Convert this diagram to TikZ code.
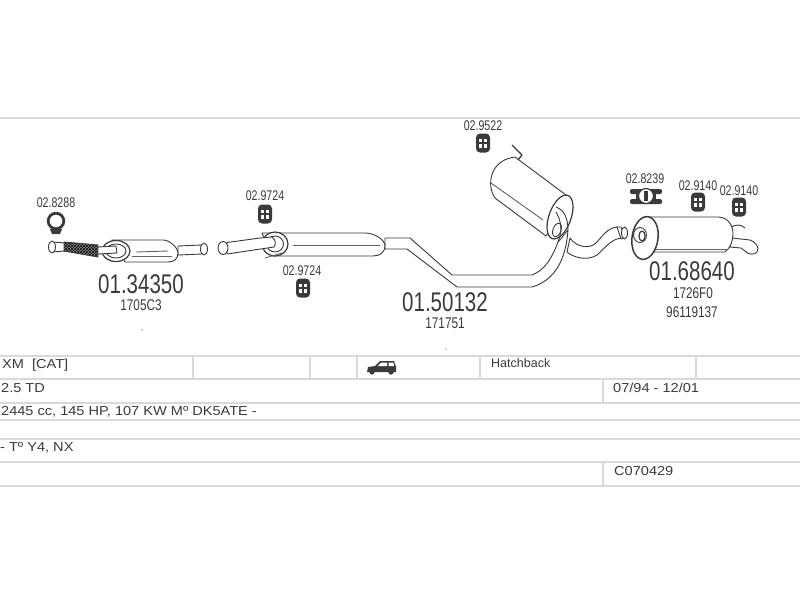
\documentclass[tikz,border=0pt]{standalone}
\usepackage{fontspec}
\setmainfont{Liberation Sans}
\newfontfamily\narrowfont[FakeStretch=.76]{Liberation Sans}
\newfontfamily\wideface[FakeStretch=1.12]{Liberation Sans}
\usetikzlibrary{calc,patterns}
\definecolor{inkgray}{HTML}{3A3A3A}
\definecolor{rulegray}{HTML}{D9D9D9}
\tikzset{
  pipeline/.style={draw=inkgray, line width=.9pt, fill=white, line join=round},
  thinline/.style={draw=inkgray!80, line width=.9pt},
  rowline/.style={draw=rulegray, line width=2pt},
  partno/.style={text=inkgray, font=\narrowfont\fontsize{27}{27}\selectfont, inner sep=0pt},
  refno/.style={text=inkgray, font=\narrowfont\fontsize{15.5}{16}\selectfont, inner sep=0pt},
  clampno/.style={text=inkgray, font=\narrowfont\fontsize{14}{14}\selectfont, inner sep=0pt},
  rowtext/.style={text=inkgray, font=\wideface\fontsize{13}{13}\selectfont, anchor=west, inner sep=0pt},
}
% rubber hanger, centre at #1
\newcommand{\hanger}[1]{
  \fill[inkgray, rounded corners=4pt] ($#1+(-7,-9.5)$) rectangle ($#1+(7,9.5)$);
  \fill[white] ($#1+(-4,-4.5)$) rectangle ($#1+(-1,-.8)$);
  \fill[white] ($#1+(1,-4.5)$) rectangle ($#1+(4,-.8)$);
  \fill[white] ($#1+(-4,.8)$) rectangle ($#1+(-1,4.5)$);
  \fill[white] ($#1+(1,.8)$) rectangle ($#1+(4,4.5)$);
}
\begin{document}
\begin{tikzpicture}[x=1pt, y=-1pt]
\useasboundingbox (0,0) rectangle (800,600);

% table
\foreach \y in {118,356,379,403,420,439,462,486}
  \draw[rowline] (0,\y)--(800,\y);
\foreach \x in {193,310,357,480,696}
  \draw[rowline] (\x,356)--(\x,379);
\draw[rowline] (603,379)--(603,403);
\draw[rowline] (603,462)--(603,486);

\node[rowtext] (model) at (2,365) {XM\ \ [CAT]};
\node[rowtext] (engine) at (1,388) {2.5 TD};
\node[rowtext] (power) at (1,412) {2445 cc, 145 HP, 107 KW Mº DK5ATE -};
\node[rowtext] (type) at (0,448) {- Tº Y4, NX};
\node[rowtext, font=\fontsize{12.5}{13}\selectfont] (body) at (491,363) {Hatchback};
\node[rowtext] (years) at (613,388) {07/94 - 12/01};
\node[rowtext] (code) at (614,471) {C070429};

% car icon
\fill[inkgray] (367,372)--(368,367)--(375,366)--(380,361)--(394,361)--(396,367)--(396,372)--cycle;
\fill[white] (381,362.5)--(387,362.5)--(387,366)--(378,366)--cycle (388.5,362.5)--(393.5,362.5)--(394,366)--(388.5,366)--cycle;
\fill[inkgray] (372,372) circle (2.6) (391,372) circle (2.6);

% front pipe and catalyst
\draw[pipeline] (52,242)--(65,243)--(65,251)--(52,252);
\draw[pipeline] (52,247) ellipse (3.5 and 6);
\fill[inkgray!55] (64,242)--(98,245)--(98,257)--(64,251)--cycle;
\draw[pipeline, pattern=crosshatch, pattern color=black] (64,242)--(98,245)--(98,257)--(64,251)--cycle;
\draw[pipeline] (178,246)--(202,245)--(202,254)--(178,255)--cycle;
\draw[pipeline] (204,249) ellipse (3.5 and 6);
\draw[pipeline] (112,240)--(163,240)..controls (170,240) and (178,248)..(178,253)..controls (178,259) and (174,262)..(168,262)--(125,262)--cycle;
\draw[pipeline, line width=1.2pt] (116,251) ellipse (14 and 10.5);
\draw[pipeline] (116,251) ellipse (10 and 7);
\draw[pipeline] (98,247)--(116,246)--(117,253)--(98,254)--cycle;
\draw[thinline] (136,252)--(168,251);
\draw[thinline] (132,256)--(172,256);

\draw[line width=2.8pt, draw=inkgray] (56,221) circle (7.8);
\fill[inkgray] (50,229)--(62,229)--(60,234)--(52,234)--cycle;

% centre pipe
\draw[pipeline] (385,238)--(410,238)--(452,275)--(532,275)..controls (545,270) and (552,258)..(558,242)
  --(568,230)..controls (566,258) and (556,280)..(532,287)--(457,287)--(407,249)--(385,249)--cycle;
\draw[pipeline] (262,233)--(365,233)..controls (375,233) and (385,240)..(385,246)..controls (385,252) and (380,256)..(373,256)--(272,256)--cycle;
\draw[pipeline, line width=1.2pt] (275,244) ellipse (13 and 12);
\draw[pipeline] (275,244) ellipse (8.5 and 8);
\draw[thinline] (293,245)--(380,245);
\draw[pipeline] (227,242.5)--(260,238)--(272,237)..controls (276,240) and (276,244)..(274,247)--(227,254)--cycle;
\draw[pipeline] (223,248) ellipse (5 and 6.5);
\draw[thinline] (265,258)--(282,253);

% centre muffler
\draw[pipeline] (515,157)--(570,198)--(546,236)--(495,198)..controls (486,185) and (490,160)..(515,157)--cycle;
\draw[thinline] (491,183)--(543,220);
\draw[pipeline, line width=1.3pt, fill=none] (512,145)--(522,155)--(518,160);
\draw[pipeline, line width=1.2pt, rotate around={-20:(560,217)}] (560,217) ellipse (11 and 23);
\draw[pipeline, rotate around={-20:(557,230)}] (557,230) ellipse (4 and 7);
\draw[pipeline, fill=none] (568,230)..controls (568,220) and (565,210)..(556,207);
\draw[pipeline, fill=none] (558,242)..controls (562,232) and (562,222)..(556,212);

% connecting bend
\draw[pipeline] (570,238)..controls (576,247) and (590,250)..(597,242)..controls (603,235) and (608,228)..(617,227)
  --(623,238)..controls (612,238) and (606,247)..(597,255)..controls (588,261) and (574,258)..(567,252)--cycle;
\draw[pipeline] (617,227)--(621,227)--(625,238)--(621,239)--cycle;
\draw[pipeline] (624.5,233) ellipse (3 and 6);

% rear muffler
\draw[pipeline] (732,238)--(750,240)..controls (756,242) and (760,248)..(757,252)..controls (755,255) and (748,255)..(745,251)--(741,248)--(730,247)--cycle;
\draw[pipeline, fill=none] (730,228)..controls (735,224) and (741,224)..(745,228);
\draw[pipeline] (645,217)--(718,217)..controls (728,217) and (733,226)..(733,233)..controls (733,242) and (730,248)..(725,252)--(650,252)--cycle;
\draw[thinline] (655,249)--(728,249);
\draw[pipeline, line width=1.5pt, rotate around={-8:(645,238)}] (645,238) ellipse (13 and 21.5);
\draw[pipeline] (640,235) ellipse (6.5 and 7.5);
\draw[pipeline, line width=1.2pt] (642,236) ellipse (3 and 5);

% clamps
\hanger{(265,214)}
\hanger{(303,288)}
\hanger{(483,143)}
\hanger{(698,202)}
\hanger{(739,207)}

\fill[inkgray, rounded corners=2pt] (630,189) rectangle (662,194) (630,199) rectangle (662,204);
\fill[inkgray] (636,193) rectangle (656,200);
\draw[line width=1.2pt, draw=inkgray, fill=white] (646,196) circle (7.5);
\fill[inkgray] (644,191) rectangle (648,201);

% labels
\node[clampno] (c1) at (56,203) {02.8288};
\node[clampno] (c2) at (265,196) {02.9724};
\node[clampno] (c3) at (302,271) {02.9724};
\node[clampno] (c4) at (483,126) {02.9522};
\node[clampno] (c5) at (645,179) {02.8239};
\node[clampno] (c6) at (698,186) {02.9140};
\node[clampno] (c7) at (739,191) {02.9140};

\node[partno] (p1) at (141,284) {01.34350};
\node[partno] (p2) at (445,302) {01.50132};
\node[partno] (p3) at (692,271) {01.68640};
\node[refno] (r1) at (141,305) {1705C3};
\node[refno] (r2) at (445,323) {171751};
\node[refno] (r3) at (693,293) {1726F0};
\node[refno] (r4) at (692,312) {96119137};

% specks
\fill[inkgray] (142,330) circle (.7) (446,349) circle (.7);
\end{tikzpicture}
\end{document}
